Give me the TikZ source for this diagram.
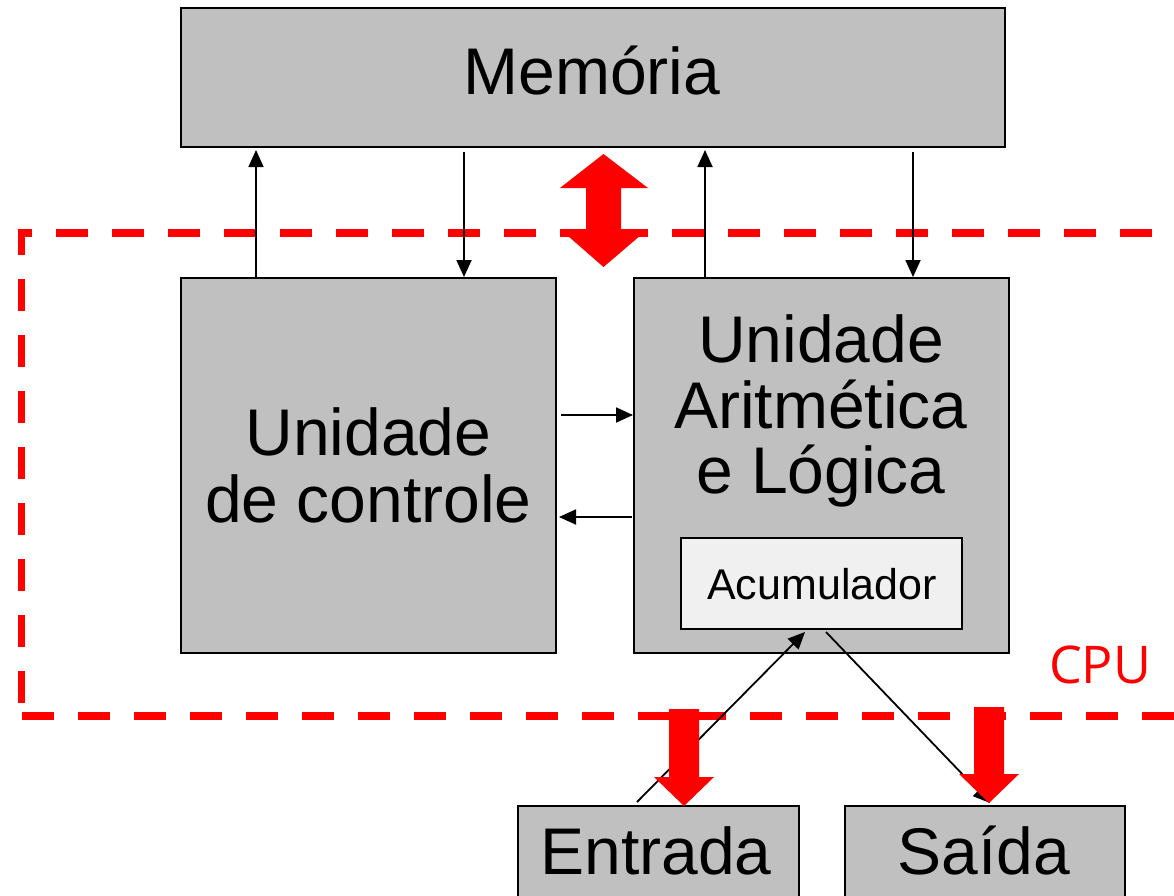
\documentclass[tikz,border=0pt]{standalone}
\usepackage{fontspec}
\setmainfont{Liberation Sans}
\newfontfamily\cpufont{Open Sans}
\usetikzlibrary{arrows.meta,calc}
\definecolor{boxgray}{HTML}{C0C0C0}
\definecolor{accfill}{HTML}{F0F0F0}
\definecolor{cpured}{HTML}{FF0000}
\begin{document}
\begin{tikzpicture}[x=1pt,y=-1pt,
  box/.style={draw=black,line width=2.6pt,fill=boxgray,inner sep=0pt,outer sep=0pt,rectangle},
  accbox/.style={box,fill=accfill},
  bigtxt/.style={font=\fontsize{66}{67}\selectfont,anchor=base,inner sep=0pt,outer sep=0pt},
  smalltxt/.style={font=\fontsize{43}{45}\selectfont,anchor=base,inner sep=0pt,outer sep=0pt},
  arr/.style={draw=black,line width=1.8pt,-{Triangle[length=17pt,width=15pt]}},
  cpudash/.style={draw=cpured,line width=7.5pt,dash pattern=on 32pt off 24pt},
  busarrow/.style={fill=cpured}
]
\useasboundingbox (0,0) rectangle (1174,895);

% boxes
\node[box,minimum width=824pt,minimum height=139pt] (mem) at (593,77.5) {};
\node[box,minimum width=375pt,minimum height=375pt] (uc) at (368.5,465.5) {};
\node[box,minimum width=375pt,minimum height=375pt] (alu) at (821.5,465.5) {};
\node[accbox,minimum width=281pt,minimum height=91pt] (acc) at (821.5,583.5) {};
\node[box,minimum width=281pt,minimum height=120pt] (ent) at (658.5,866) {};
\node[box,minimum width=280pt,minimum height=120pt] (sai) at (985,866) {};

% texts
\node[bigtxt] (memtxt) at (592,94) {Memória};
\node[bigtxt] (uctxta) at (368.5,455) {Unidade};
\node[bigtxt] (uctxtb) at (368.5,522) {de controle};
\node[bigtxt] (alutxta) at (821,362) {Unidade};
\node[bigtxt] (alutxtb) at (821,428) {Aritmética};
\node[bigtxt] (alutxtc) at (821,493) {e Lógica};
\node[smalltxt] (acctxt) at (822,599) {Acumulador};
\node[bigtxt] (enttxt) at (656,874) {Entrada};
\node[bigtxt] (saitxt) at (984,874) {Saída};
\node[font=\cpufont\fontsize{52}{54}\selectfont,text=cpured,anchor=base,inner sep=0pt] (cpulbl) at (1100,683) {CPU};

% CPU dashed frame
\draw[cpudash] (32,233) -- (21.5,233) -- (21.5,716);
\draw[cpudash,dash phase=32pt] (32,233) -- (1200,233);
\draw[cpudash] (22,716) -- (1200,716);

% black arrows
\draw[arr,shorten >=3pt] (uc.north -| 256,0) -- (mem.south -| 256,0);
\draw[arr,shorten <=5pt,shorten >=1pt] (mem.south -| 464,0) -- (uc.north -| 464,0);
\draw[arr,shorten >=3pt] (alu.north -| 705,0) -- (mem.south -| 705,0);
\draw[arr,shorten <=5pt,shorten >=1pt] (mem.south -| 913,0) -- (alu.north -| 913,0);
\draw[arr,shorten <=5pt,shorten >=1pt] (uc.east |- 0,415) -- (alu.west |- 0,415);
\draw[arr,shorten <=2pt,shorten >=3pt] (alu.west |- 0,517) -- (uc.east |- 0,517);
\draw[arr] ($(ent.north west)+(119,-4)$) -- ($(acc.south west)+(124,3)$);
\draw[arr] ($(acc.south west)+(145,3)$) -- ($(sai.north west)+(145,-3)$);

% red bus arrows
\fill[busarrow] (603.5,154) -- (648,188) -- (621,188) -- (621,229) -- (648,229) -- (603.5,267)
  -- (560,229) -- (586,229) -- (586,188) -- (560,188) -- cycle;
\fill[busarrow] (669,709) -- (699,709) -- (699,777) -- (714,777) -- (684,806) -- (654,777) -- (669,777) -- cycle;
\fill[busarrow] (974,707) -- (1004,707) -- (1004,774) -- (1019,774) -- (989,803) -- (959,774) -- (974,774) -- cycle;
\end{tikzpicture}
\end{document}
